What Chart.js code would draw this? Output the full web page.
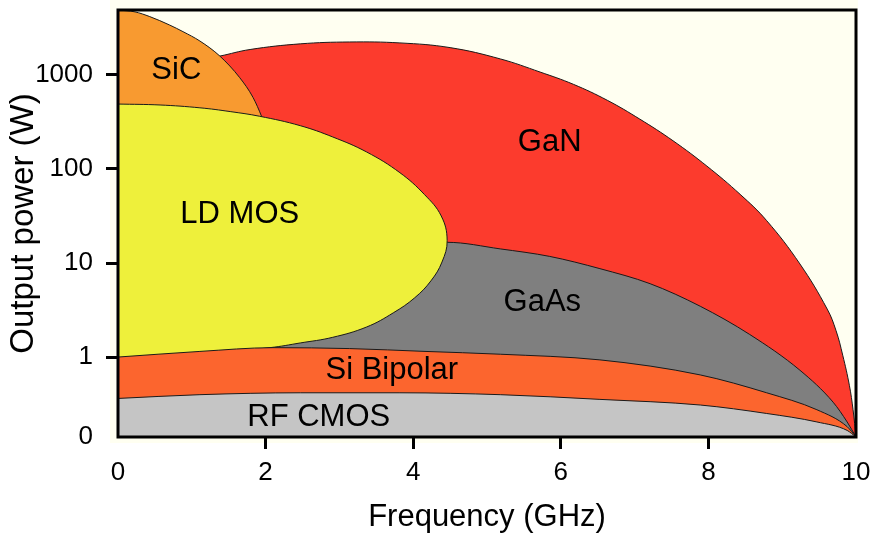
<!DOCTYPE html>
<html lang="en">
<head>
<meta charset="UTF-8">
<title>RF power technologies</title>
<script src="https://cdn.jsdelivr.net/npm/chart.js@4"></script>
<style>
  html, body { margin: 0; padding: 0; background: #fff; }
  #wrap { width: 872px; height: 537px; }
</style>
</head>
<body>
<div id="wrap"><canvas id="techChart"></canvas></div>
<script>
// Region boundaries: frequency in GHz, power level in decades (log10 of watts)
const sicFreq  = [0, 0.23, 0.43, 0.70, 0.88, 1.11, 1.38, 1.65, 1.83, 1.95, 2.06, 2.14];
const sicLevel = [3.69, 3.67, 3.62, 3.53, 3.46, 3.36, 3.20, 2.97, 2.76, 2.55, 2.31, 2.04];

const ganFreq  = [0, 0.43, 0.98, 1.38, 1.79, 2.47, 3.14, 3.82, 4.50, 5.18, 5.72, 6.17, 6.63, 7.07, 7.52, 7.98, 8.43, 8.79, 9.24, 9.61, 9.73, 9.82, 9.91, 9.96, 10];
const ganLevel = [2.88, 3.01, 3.14, 3.20, 3.27, 3.33, 3.35, 3.34, 3.29, 3.17, 3.03, 2.90, 2.73, 2.53, 2.30, 2.03, 1.73, 1.45, 0.99, 0.51, 0.28, 0.02, -0.30, -0.56, -0.85];

// LD MOS is a closed outline: upper edge left to right, then lower edge back
const ldmosFreq  = [0, 0.57, 1.11, 1.52, 1.92, 2.47, 2.91, 3.37, 3.82, 4.15, 4.38, 4.46, 4.39, 4.24, 4.02, 3.73, 3.37, 2.91, 2.47, 2.06, 1.11, 0];
const ldmosLevel = [2.69, 2.68, 2.65, 2.61, 2.56, 2.46, 2.34, 2.18, 1.96, 1.73, 1.50, 1.24, 1.01, 0.81, 0.63, 0.47, 0.32, 0.21, 0.15, 0.10, 0.03, -0.03];

const gaasFreq  = [0, 2.47, 4.46, 5.18, 5.85, 6.53, 7.21, 7.89, 8.56, 9.24, 9.69, 9.88, 10];
const gaasLevel = [1.22, 1.22, 1.22, 1.15, 1.07, 0.94, 0.78, 0.54, 0.24, -0.14, -0.48, -0.69, -0.85];

const siBipFreq  = [0, 1.11, 2.10, 3.14, 4.16, 5.18, 6.53, 7.89, 8.79, 9.47, 9.88, 10];
const siBipLevel = [0, 0.06, 0.10, 0.09, 0.06, 0.03, -0.03, -0.19, -0.38, -0.56, -0.74, -0.85];

const cmosFreq  = [0, 1.11, 2.47, 3.82, 5.18, 6.53, 7.89, 8.79, 9.47, 9.88, 10];
const cmosLevel = [-0.44, -0.40, -0.38, -0.38, -0.40, -0.45, -0.51, -0.60, -0.69, -0.78, -0.85];

// Region names and where they are written
const labelNames = ['SiC', 'GaN', 'LD MOS', 'GaAs', 'Si Bipolar', 'RF CMOS'];
const labelFreq  = [0.79, 5.85, 1.65, 5.75, 3.71, 2.72];
const labelLevel = [3.05, 2.28, 1.52, 0.585, -0.14, -0.64];

// Power axis
const levelMin = -0.85;
const levelMax = 3.69;
const powerTickLevels = [levelMin, 0, 1, 2, 3];
const powerTickLabels = ['0', '1', '10', '100', '1000'];

const FONT = '"Liberation Sans", Arial, Helvetica, sans-serif';

function edge(freq, level) {
  return freq.map((f, i) => ({ x: f, y: level[i] }));
}

// monotone spline for the flat bands, bezier for the domed outlines
function region(label, freq, level, color, fill, order, domed) {
  const ds = {
    label: label,
    data: edge(freq, level),
    backgroundColor: color,
    borderColor: '#1a1a1a',
    borderWidth: 1,
    pointRadius: 0,
    fill: fill,
    order: order
  };
  if (domed) {
    ds.tension = 0.4;
  } else {
    ds.cubicInterpolationMode = 'monotone';
  }
  return ds;
}

// ivory plot backdrop and the black frame round the plot
const frame = {
  id: 'frame',
  beforeDraw(chart) {
    const { ctx, chartArea: a } = chart;
    ctx.save();
    ctx.fillStyle = '#fffff1';
    ctx.fillRect(a.left - 8, 0, a.right - a.left + 10, a.bottom + 6);
    ctx.restore();
  },
  afterDatasetsDraw(chart) {
    const { ctx, chartArea: a } = chart;
    ctx.save();
    ctx.strokeStyle = '#000';
    ctx.lineWidth = 3;
    ctx.strokeRect(a.left, a.top, a.right - a.left, a.bottom - a.top);
    ctx.restore();
  }
};

const regionLabels = {
  id: 'regionLabels',
  afterDatasetsDraw(chart) {
    const { ctx, scales: { x, y } } = chart;
    ctx.save();
    ctx.font = '31px ' + FONT;
    ctx.fillStyle = '#000';
    ctx.textAlign = 'center';
    ctx.textBaseline = 'middle';
    labelNames.forEach((name, i) => {
      ctx.fillText(name, x.getPixelForValue(labelFreq[i]), y.getPixelForValue(labelLevel[i]));
    });
    ctx.restore();
  }
};

const hidden = 'rgba(0,0,0,0)';

new Chart(document.getElementById('techChart'), {
  type: 'line',
  data: {
    datasets: [
      region('RF CMOS', cmosFreq, cmosLevel, '#c5c5c5', 'start', 1, false),
      region('Si Bipolar', siBipFreq, siBipLevel, '#fc652e', 'start', 2, false),
      region('LD MOS', ldmosFreq, ldmosLevel, '#eef03b', 'shape', 3, true),
      region('GaAs', gaasFreq, gaasLevel, '#7f7f7f', 'start', 4, false),
      region('SiC', sicFreq, sicLevel, '#f89a30', 'start', 5, false),
      region('GaN', ganFreq, ganLevel, '#fc3b2d', 'start', 6, true)
    ]
  },
  options: {
    responsive: true,
    maintainAspectRatio: false,
    animation: false,
    layout: { padding: { left: 0, right: 16, top: 10, bottom: 0 } },
    plugins: {
      legend: { display: false },
      tooltip: { enabled: false }
    },
    scales: {
      x: {
        type: 'linear',
        min: 0,
        max: 10,
        afterFit(scale) {
          scale.height = 100;
          scale.paddingLeft = 0;
          scale.paddingRight = 0;
        },
        border: { display: false },
        grid: {
          drawOnChartArea: false,
          drawTicks: true,
          tickLength: 12,
          tickWidth: 3,
          tickColor: ctx => (ctx.tick && (ctx.tick.value === 0 || ctx.tick.value === 10)) ? hidden : '#000'
        },
        ticks: {
          stepSize: 2,
          maxRotation: 0,
          padding: 8,
          color: '#000',
          font: { family: FONT, size: 26 }
        },
        title: {
          display: true,
          text: 'Frequency (GHz)',
          color: '#000',
          font: { family: FONT, size: 31, lineHeight: 1 },
          padding: { top: 0, bottom: 4 }
        }
      },
      y: {
        type: 'linear',
        min: levelMin,
        max: levelMax,
        afterFit(scale) {
          scale.width = 118;
          scale.paddingTop = 0;
          scale.paddingBottom = 0;
        },
        afterBuildTicks(scale) {
          scale.ticks = powerTickLevels.map(v => ({ value: v }));
        },
        border: { display: false },
        grid: {
          drawOnChartArea: false,
          drawTicks: true,
          tickLength: 12,
          tickWidth: 3,
          tickColor: ctx => (ctx.tick && ctx.tick.value === levelMin) ? hidden : '#000'
        },
        ticks: {
          autoSkip: false,
          padding: 13,
          color: '#000',
          font: { family: FONT, size: 26 },
          callback: (value, index) => powerTickLabels[index]
        },
        title: {
          display: true,
          text: 'Output power (W)',
          color: '#000',
          font: { family: FONT, size: 33, lineHeight: 1 },
          padding: { top: 7, bottom: 0 }
        }
      }
    }
  },
  plugins: [frame, regionLabels]
});
</script>
</body>
</html>
